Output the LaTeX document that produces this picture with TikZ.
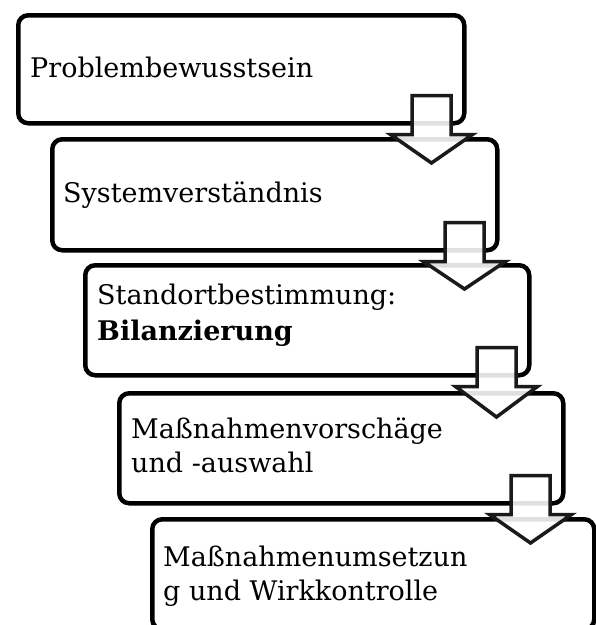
\documentclass[tikz,border=0pt]{standalone}
\usepackage{fontspec}
\setmainfont{DejaVu Serif}
\usepackage{tikz}
\usetikzlibrary{positioning,calc}
\definecolor{arrowline}{RGB}{26,26,26}
\tikzset{
      mystepbox/.style 2 args={
        draw=black,
        line width=4.5pt,
        rounded corners=10pt,
        anchor=north west,
        minimum width=#1,
        minimum height=#2,
        inner sep=0pt
      },
      mysteptext/.style={
        anchor=base west,
        inner sep=0pt,
        align=left,
        font=\fontsize{27}{34}\selectfont
      },
      mydownarrow/.style={
        draw=arrowline,
        line width=3.5pt,
        line join=miter,
        fill=white,
        fill opacity=0.88
      },
    }
\newcommand{\blockarrow}[2]{%
  \path[mydownarrow] let \p1=(#1.south east), \p2=(#2.north) in
    (\x1-54.5pt,\y1+30pt) -- (\x1-15.5pt,\y1+30pt) -- (\x1-15.5pt,\y1-9pt)
    -- (\x1+6pt,\y1-9pt) -- (\x1-35pt,\y2-26pt) -- (\x1-76pt,\y1-9pt)
    -- (\x1-54.5pt,\y1-9pt) -- cycle;}

\begin{document}
\begin{tikzpicture}[x=1pt,y=-1pt]
          \useasboundingbox (0,0) rectangle (596,625);

          \node[mystepbox={446pt}{108pt}] at (16,13)
            (box1) {};
          \node[mysteptext] at ($(box1.north west)+(14,64)$)
            (text1) {Problembewusstsein};

          \node[mystepbox={445pt}{111pt}] at (50,137)
            (box2) {};
          \node[mysteptext] at ($(box2.north west)+(13,65)$)
            (text2) {Systemverständnis};

          % base anchor of a two-line text is its last line
          \node[mystepbox={444pt}{110pt}] at (83,263)
            (box3) {};
          \node[mysteptext] at ($(box3.north west)+(14,77)$)
            (text3) {Standortbestimmung:\\[2pt]\textbf{Bilanzierung}};

          \node[mystepbox={444pt}{110pt}] at (117,391)
            (box4) {};
          \node[mysteptext] at ($(box4.north west)+(14,81)$)
            (text4) {Maßnahmenvorschäge\\und -auswahl};

          \node[mystepbox={442pt}{110pt}] at (150,517)
            (box5) {};
          \node[mysteptext] at ($(box5.north west)+(13,83)$)
            (text5) {Maßnahmenumsetzun\\g und Wirkkontrolle};

          % arrows between the steps
          \blockarrow{box1}{box2}
          \blockarrow{box2}{box3}
          \blockarrow{box3}{box4}
          \blockarrow{box4}{box5}
        \end{tikzpicture}
\end{document}
